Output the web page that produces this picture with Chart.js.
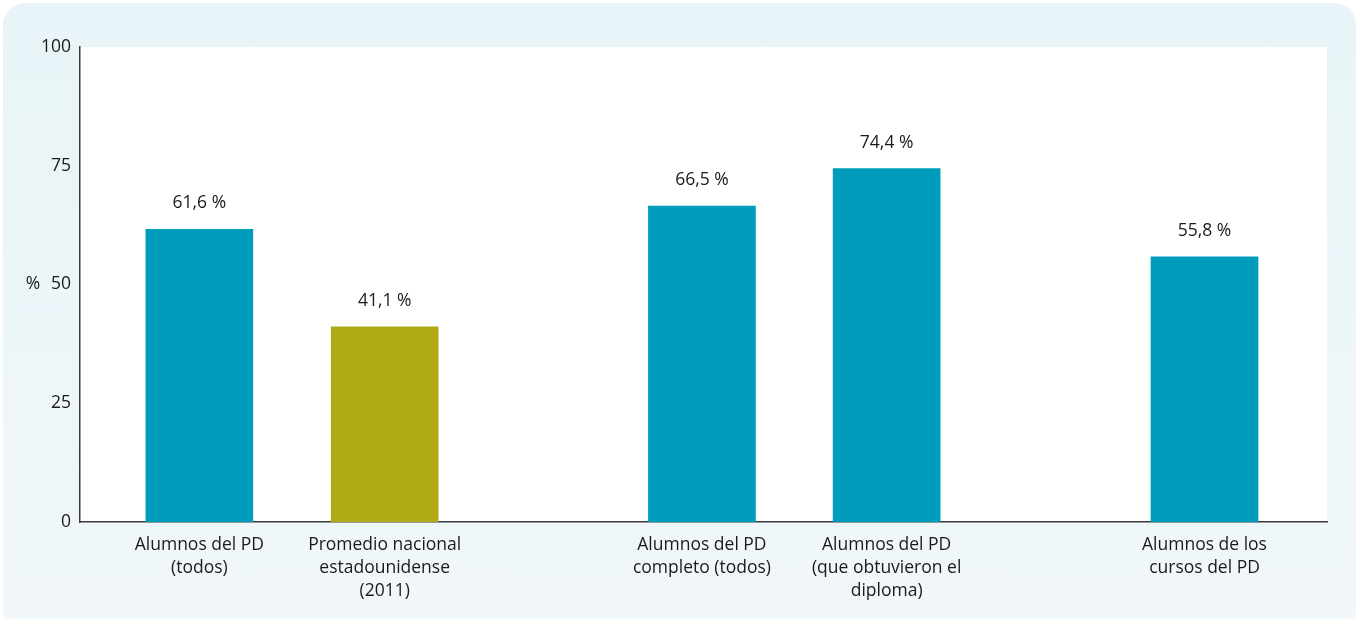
<!DOCTYPE html>
<html>
<head>
<meta charset="utf-8">
<script src="https://cdn.jsdelivr.net/npm/chart.js@4.4.1/dist/chart.umd.min.js"></script>
<style>
    html, body { margin: 0; padding: 0; background: #ffffff; }
    .panel {
        position: absolute; left: 3px; top: 3px; width: 1353px; height: 630px;
        border-radius: 22px;
        background: linear-gradient(to bottom, #e8f4f7, #f1f7fb);
    }
    .wrap { position: absolute; left: 0; top: 0; width: 1359px; height: 619px; }
</style>
</head>
<body>
<div class="panel"></div>
<div class="wrap"><canvas id="pdChart"></canvas></div>
<script>
const categories = [
    ['Alumnos del PD', '(todos)'],
    ['Promedio nacional', 'estadounidense', '(2011)'],
    ['Alumnos del PD', 'completo (todos)'],
    ['Alumnos del PD', '(que obtuvieron el', 'diploma)'],
    ['Alumnos de los', 'cursos del PD']
];
const values = [61.6, 41.1, 66.5, 74.4, 55.8];
const slots = [2, 4.95, 10, 12.94, 18]; // grupos separados en el eje
const barColors = ['#009cbb', '#aea914', '#009cbb', '#009cbb', '#009cbb'];
const yTicks = [0, 25, 50, 75, 100];

const FONT = '"Open Sans", "Noto Sans", sans-serif';

// fondo blanco del área del gráfico
const plotBg = {
    id: 'plotBg',
    beforeDraw(chart) {
        const { ctx, chartArea: a } = chart;
        ctx.save();
        ctx.fillStyle = '#ffffff';
        ctx.fillRect(a.left, a.top, a.right - a.left, a.bottom - a.top);
        ctx.restore();
    }
};

// etiquetas de valor y el símbolo %
const valueLabels = {
    id: 'valueLabels',
    afterDatasetsDraw(chart) {
        const { ctx } = chart;
        const meta = chart.getDatasetMeta(0);
        ctx.save();
        ctx.font = '17.5px ' + FONT;
        ctx.fillStyle = '#1a1a1a';
        ctx.textAlign = 'center';
        ctx.textBaseline = 'middle';
        meta.data.forEach((bar, i) => {
            ctx.fillText(values[i].toFixed(1).replace('.', ',') + ' %', bar.x, bar.y - 26);
        });
        const y = chart.scales.y;
        ctx.fillText('%', 33, y.getPixelForValue(50));
        ctx.restore();
    }
};

new Chart(document.getElementById('pdChart'), {
    type: 'bar',
    data: {
        datasets: [{
            data: slots.map((s, i) => ({ x: s, y: values[i] })),
            backgroundColor: barColors,
            barThickness: 107
        }]
    },
    options: {
        responsive: true,
        maintainAspectRatio: false,
        animation: false,
        layout: { padding: { left: 0, top: 47, right: 32, bottom: 0 } },
        plugins: { legend: { display: false }, tooltip: { enabled: false } },
        scales: {
            x: {
                type: 'linear',
                offset: false,
                min: 0.1,
                max: 19.95,
                grid: { display: false, drawTicks: false, offset: false },
                border: { color: '#3a3a3a', width: 1.5 },
                afterBuildTicks: scale => { scale.ticks = slots.map(v => ({ value: v })); },
                afterFit: scale => { scale.height = 97; },
                ticks: {
                    autoSkip: false,
                    maxRotation: 0,
                    padding: 12,
                    color: '#1a1a1a',
                    font: { family: FONT, size: 17.5, lineHeight: 1.3 },
                    callback: (val, idx) => categories[idx]
                }
            },
            y: {
                min: 0,
                max: 100,
                grid: { display: false, drawTicks: false },
                border: { color: '#3a3a3a', width: 1.5 },
                afterBuildTicks: scale => { scale.ticks = yTicks.map(v => ({ value: v })); },
                afterFit: scale => { scale.width = 80; },
                ticks: {
                    padding: 9,
                    color: '#1a1a1a',
                    font: { family: FONT, size: 17.5 }
                }
            }
        }
    },
    plugins: [plotBg, valueLabels]
});
</script>
</body>
</html>
